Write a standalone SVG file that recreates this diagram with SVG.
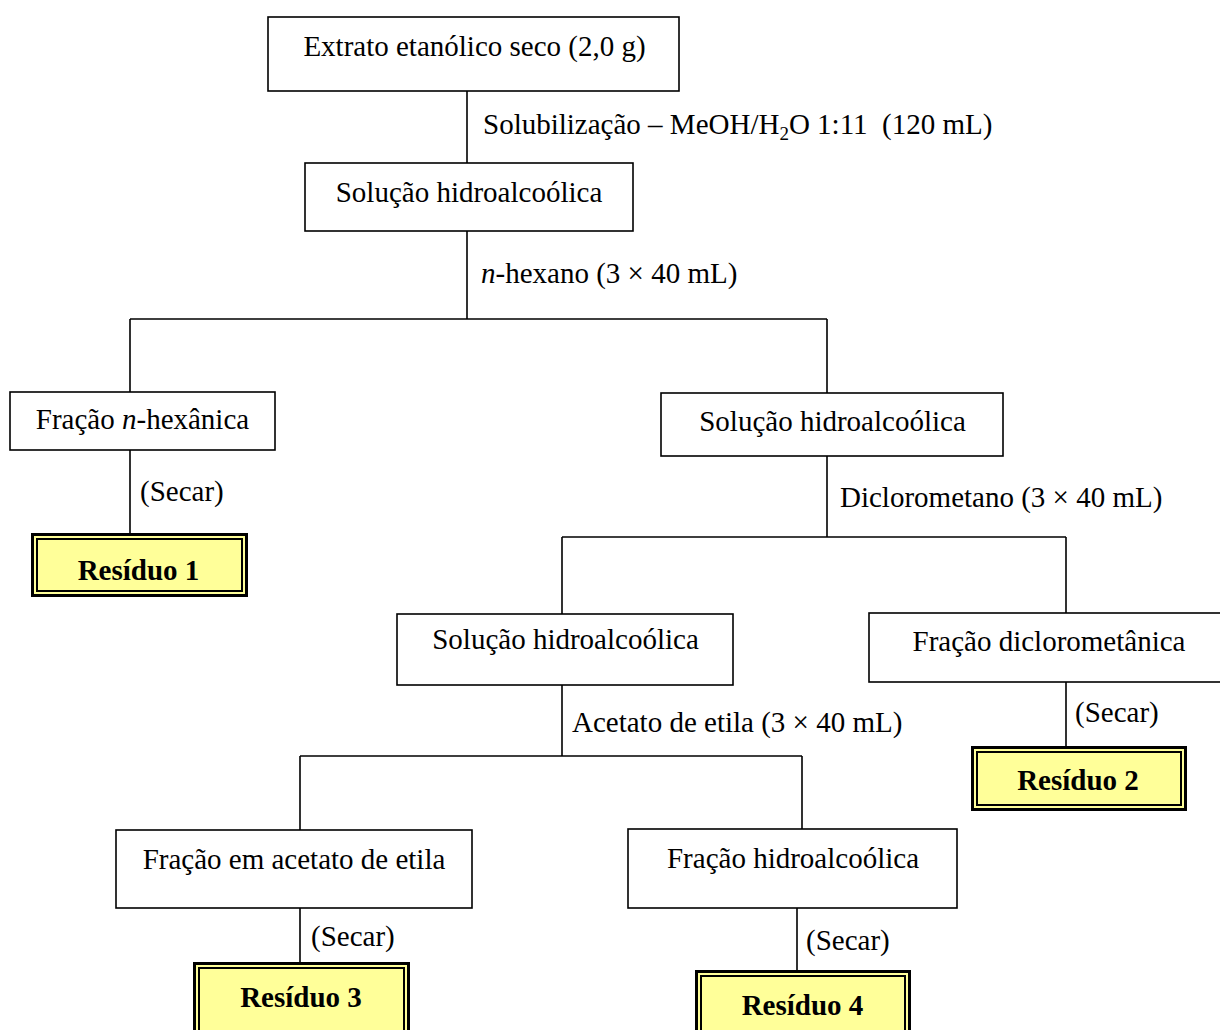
<svg xmlns="http://www.w3.org/2000/svg" width="1220" height="1030" viewBox="0 0 1220 1030">
<style>
text{font-family:"Liberation Serif","Times New Roman",serif;font-size:29px;fill:#000}
.c{text-anchor:middle}
.b{font-weight:bold}
.box{fill:#fff;stroke:#000;stroke-width:1.6}
.ro{fill:#FFFF99;stroke:#000;stroke-width:3}
.ri{fill:none;stroke:#000;stroke-width:2}
.ln{stroke:#000;stroke-width:1.6;fill:none}
</style>
<rect width="1220" height="1030" fill="#fff"/>
<g id="connectors">
<path class="ln" d="M467 91V163M467 231V319M130 319H827M130 319V392M827 319V393M130 450V535M827 456V537M562 537H1066M562 537V614M1066 537V613M1066 682V746M562 685V756M300 756H802M300 756V830M802 756V829M300 908V963M797 908V970"/>
<text x="483" y="134">Solubilização – MeOH/H<tspan font-size="19" dy="6">2</tspan><tspan dy="-6">O 1:11 &#160;(120 mL)</tspan></text>
<text x="481" y="283"><tspan font-style="italic">n</tspan>-hexano (3 × 40 mL)</text>
<text x="140" y="501">(Secar)</text>
<text x="840" y="507">Diclorometano (3 × 40 mL)</text>
<text x="1075" y="722">(Secar)</text>
<text x="572" y="732">Acetato de etila (3 × 40 mL)</text>
<text x="311" y="946">(Secar)</text>
<text x="806" y="950">(Secar)</text>
</g>
<g id="n1"><rect class="box" x="268" y="17" width="411" height="74"/><text class="c" x="474.5" y="56">Extrato etanólico seco (2,0 g)</text></g>
<g id="n2"><rect class="box" x="305" y="163" width="328" height="68"/><text class="c" x="469" y="202">Solução hidroalcoólica</text></g>
<g id="n3"><rect class="box" x="10" y="392" width="265" height="58"/><text class="c" x="142.5" y="429">Fração <tspan font-style="italic">n</tspan>-hexânica</text></g>
<g id="n4"><rect class="box" x="661" y="393" width="342" height="63"/><text class="c" x="832.5" y="431">Solução hidroalcoólica</text></g>
<g id="r1"><rect class="ro" x="32.5" y="534.5" width="214" height="61"/><rect class="ri" x="37" y="539" width="205" height="52"/><text class="c b" x="138.5" y="580">Resíduo 1</text></g>
<g id="n5"><rect class="box" x="397" y="614" width="336" height="71"/><text class="c" x="565.5" y="649">Solução hidroalcoólica</text></g>
<g id="n6"><rect class="box" x="869" y="613" width="360" height="69"/><text class="c" x="1049" y="651">Fração diclorometânica</text></g>
<g id="r2"><rect class="ro" x="972.5" y="747.5" width="213" height="62"/><rect class="ri" x="977" y="752" width="204" height="53"/><text class="c b" x="1078" y="790">Resíduo 2</text></g>
<g id="n7"><rect class="box" x="116" y="830" width="356" height="78"/><text class="c" x="294" y="869">Fração em acetato de etila</text></g>
<g id="n8"><rect class="box" x="628" y="829" width="329" height="79"/><text class="c" x="793" y="868">Fração hidroalcoólica</text></g>
<g id="r3"><rect class="ro" x="194.5" y="963.5" width="214" height="70"/><rect class="ri" x="199" y="968" width="205" height="70"/><text class="c b" x="301" y="1007">Resíduo 3</text></g>
<g id="r4"><rect class="ro" x="696.5" y="971.5" width="213" height="70"/><rect class="ri" x="701" y="976" width="204" height="70"/><text class="c b" x="802.5" y="1015">Resíduo 4</text></g>
</svg>
